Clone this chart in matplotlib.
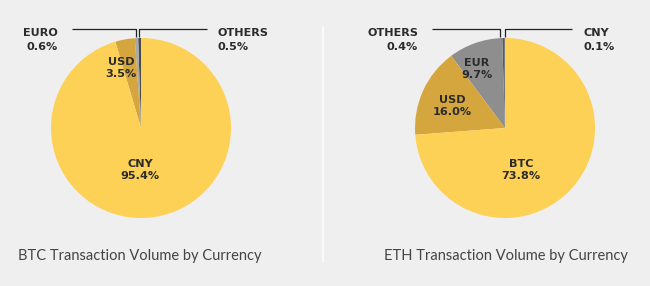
import matplotlib
matplotlib.use("Agg")
import matplotlib.pyplot as plt
import numpy as np

# data
btc_labels = ["OTHERS", "EURO", "USD", "CNY"]
btc_values = [0.5, 0.6, 3.5, 95.4]
btc_colors = ["#4a4a4a", "#a9a9a9", "#d5a63e", "#fdd156"]

eth_labels = ["CNY", "OTHERS", "EUR", "USD", "BTC"]
eth_values = [0.1, 0.4, 9.7, 16.0, 73.8]
eth_colors = ["#4a4a4a", "#5a5a5a", "#8e8e8e", "#d5a63e", "#fdd156"]

titles = ["BTC Transaction Volume by Currency", "ETH Transaction Volume by Currency"]

W, H = 650, 286
bg = "#efefef"
txt = "#2b2b2b"

fig = plt.figure(figsize=(6.5, 2.86), dpi=100, facecolor=bg)
ax = fig.add_axes([0, 0, 1, 1])
ax.set_facecolor(bg)

R = 90
centers = [(141, H - 128), (505, H - 128)]


def draw_pie(center, values, colors):
    ax.pie(values, colors=colors, center=center, radius=R, startangle=90,
           counterclock=True, wedgeprops=dict(linewidth=0), frame=True)


def pct(v):
    return f"{v:.1f}%"


def inner(x, y, name, v):
    ax.text(x, H - y, f"{name}\n{pct(v)}", ha="center", va="center",
            fontsize=8.1, fontweight="bold", color=txt, linespacing=1.3,
            family="DejaVu Sans")


def leader(xv, xend, name, v, side):
    yt, yb = H - 29, H - 37
    ax.plot([xv, xv, xend], [yb, yt, yt], color="#222222", lw=0.9,
            solid_capstyle="butt")
    if side == "left":
        tx, ha = xend - 14, "right"
    else:
        tx, ha = xend + 11, "left"
    ax.text(tx, H - 40, f"{name}\n{pct(v)}", ha=ha, va="center",
            fontsize=8.1, fontweight="bold", color=txt, linespacing=1.4,
            multialignment=ha, family="DejaVu Sans")


draw_pie(centers[0], btc_values, btc_colors)
draw_pie(centers[1], eth_values, eth_colors)

# pie() changes limits and aspect, so set the canvas afterwards
ax.set_xlim(0, W)
ax.set_ylim(0, H)
ax.set_aspect("equal")
ax.axis("off")

# BTC labels
leader(139, 207, btc_labels[0], btc_values[0], "right")
leader(136, 72, btc_labels[1], btc_values[1], "left")
inner(121, 68, btc_labels[2], btc_values[2])
inner(140, 170, btc_labels[3], btc_values[3])

# ETH labels
leader(505, 572, eth_labels[0], eth_values[0], "right")
leader(500, 432, eth_labels[1], eth_values[1], "left")
inner(477, 69, eth_labels[2], eth_values[2])
inner(452, 106, eth_labels[3], eth_values[3])
inner(521, 170, eth_labels[4], eth_values[4])

# divider
ax.plot([323, 323], [H - 28, H - 262], color="#fafafa", lw=1.5)

ax.text(18, H - 256, titles[0], ha="left", va="center", fontsize=10.5,
        color="#444444", family="Lato")
ax.text(384, H - 256, titles[1], ha="left", va="center", fontsize=10.5,
        color="#444444", family="Lato")

fig.savefig("out.png", dpi=100, facecolor=bg)
